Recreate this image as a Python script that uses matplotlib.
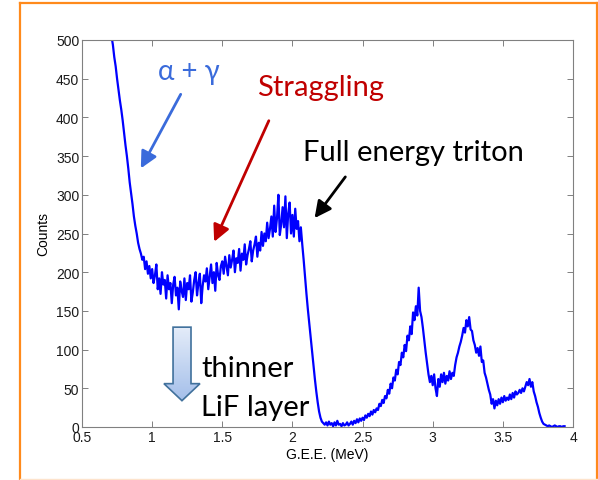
import numpy as np
import matplotlib
matplotlib.use("Agg")
import matplotlib.pyplot as plt
from matplotlib.patches import Polygon
from matplotlib.lines import Line2D

# energy grid (MeV), one channel every 0.01
energy = np.round(np.arange(0.70, 3.945, 0.01), 2)

# counts, segment by segment
counts_alpha = [525, 505, 494, 478, 466, 450, 436, 422, 410, 396,
                380, 364, 350, 334, 316, 302, 288, 272, 260, 250,
                238, 230, 224, 216, 220, 204, 214, 198, 208, 192]
counts_valley = [204, 186, 196, 210, 178, 192, 172, 200, 184, 190,
                 166, 196, 178, 186, 160, 184, 194, 170, 180, 152,
                 188, 176, 168, 192, 164, 186, 178, 196, 162, 174,
                 190, 200, 170, 186, 198, 160, 182, 196, 188, 205,
                 178, 194, 210, 186, 200, 176, 212, 196, 190, 208]
counts_rise = [214, 198, 220, 208, 196, 222, 206, 216, 228, 200,
               218, 212, 230, 202, 224, 216, 236, 210, 222, 230,
               240, 214, 228, 236, 246, 220, 238, 228, 252, 234,
               250, 240, 264, 244, 256, 272, 246, 286, 252, 270,
               300, 248, 262, 284, 258, 298, 244, 276, 290, 250,]
counts_edge = [274, 246, 282, 256, 266, 240, 258, 236, 216, 194,
               172, 152, 134, 116, 98, 80, 62, 46, 32, 20,
               12, 7, 5, 3, 6]
counts_base = [2, 7, 3, 5, 1, 6, 2, 8, 3, 4,
               1, 5, 2, 3, 6, 2, 4, 7, 3, 8,
               5, 10, 6, 11, 8]
counts_peak1 = [12, 9, 15, 12, 17, 14, 20, 16, 22, 19,
                24, 22, 30, 27, 35, 31, 40, 37, 48, 43,
                56, 50, 64, 60, 74, 68, 84, 80, 96, 90,
                106, 98, 118, 112, 130, 120, 148, 138, 156, 144,
                180, 150, 142, 128, 112, 96, 82, 68, 58]
counts_gap = [66, 54, 68, 50, 40, 62, 52, 68, 58, 70,
              56, 66, 60, 72, 62, 70, 66]
counts_peak2 = [80, 90, 96, 104, 110, 118, 128, 122, 138, 130,
                142, 126, 124, 112, 106, 96, 102, 92, 104, 84,
                86, 70, 64, 56, 48, 42, 30, 36, 24]
counts_peak3 = [34, 28, 36, 30, 38, 32, 40, 34, 38, 35,
                42, 36, 44, 38, 46, 42, 44, 48, 44, 50,
                46, 52, 58, 54, 62, 52, 58, 46, 40, 32,
                26, 18, 12, 7, 4, 3]
counts_tail = [2, 1, 2, 1, 0, 1, 2, 1, 0, 1, 1, 0, 1, 1]

counts = np.array(counts_alpha + counts_valley + counts_rise + counts_edge
                  + counts_base + counts_peak1 + counts_gap + counts_peak2
                  + counts_peak3 + counts_tail, dtype=float)
assert len(counts) == len(energy)

xticks = [0.5, 1, 1.5, 2, 2.5, 3, 3.5, 4]
xticklabels = ["0.5", "1", "1.5", "2", "2.5", "3", "3.5", "4"]
yticks = [0, 50, 100, 150, 200, 250, 300, 350, 400, 450, 500]

W, H = 598, 481
fig = plt.figure(figsize=(W / 100, H / 100), dpi=100)
ax = fig.add_axes([82 / W, (H - 428) / H, (573 - 82) / W, (428 - 41) / H])

ax.plot(energy, counts, color="#0000FF", lw=1.6)
ax.set_xlim(0.5, 4)
ax.set_ylim(0, 500)

tick_font = {"family": "Liberation Sans", "size": 10}
ax.set_xticks(xticks)
ax.set_xticklabels(xticklabels, fontdict=tick_font)
ax.set_yticks(yticks)
ax.set_yticklabels([str(v) for v in yticks], fontdict=tick_font)
ax.tick_params(direction="in", length=4, width=0.7, color="#808080",
               top=True, right=True, labelcolor="#1a1a1a", pad=2)
for s in ax.spines.values():
    s.set_color("#808080")
    s.set_linewidth(0.8)
ax.set_xlabel("G.E.E. (MeV)", fontdict=tick_font, labelpad=2)
ax.set_ylabel("Counts", fontdict=tick_font, labelpad=4)

# annotations
ann_font = "Lato"
head = "-|>,head_length=1.0,head_width=0.5"
ax.text(1.042, 450, "α + γ", color="#3A6BDB", fontsize=20, family=ann_font)
ax.annotate("", xy=(0.910, 331), xytext=(1.213, 433),
            arrowprops=dict(arrowstyle=head, color="#3A6BDB", lw=2))
ax.text(1.747, 429, "Straggling", color="#C00000", fontsize=21, family=ann_font)
ax.annotate("", xy=(1.434, 236), xytext=(1.840, 399),
            arrowprops=dict(arrowstyle=head, color="#C00000", lw=2))
ax.text(2.075, 345, "Full energy triton", color="black", fontsize=21, family=ann_font)
ax.annotate("", xy=(2.146, 267), xytext=(2.389, 326),
            arrowprops=dict(arrowstyle=head, color="black", lw=2))
ax.text(1.348, 66, "thinner", color="black", fontsize=21, family=ann_font)
ax.text(1.348, 16, "LiF layer", color="black", fontsize=21, family=ann_font)

# hollow block arrow with a soft gradient
shaft_l, shaft_r, head_l, head_r = 1.149, 1.277, 1.084, 1.341
top, neck, tip = 129, 56, 34
tip_x = (head_l + head_r) / 2
verts = [(shaft_l, top), (shaft_r, top), (shaft_r, neck), (head_r, neck),
         (tip_x, tip), (head_l, neck), (shaft_l, neck)]
block = Polygon(verts, closed=True, facecolor="none", edgecolor="#41719C",
                lw=1.2, zorder=4)
ax.add_patch(block)
grad = np.linspace(0, 1, 100).reshape(-1, 1)
img = ax.imshow(grad, cmap=matplotlib.colors.LinearSegmentedColormap.from_list(
    "g", ["#A4BFEA", "#E4ECF9"]), extent=(head_l, head_r, tip, top),
    origin="lower", aspect="auto", zorder=3)
img.set_clip_path(block)

# orange frame
orange = "#FF8A1C"
fig.add_artist(Line2D([19.5 / W, 19.5 / W], [0, 1 - 4 / H], transform=fig.transFigure,
                      color=orange, lw=1.6))
fig.add_artist(Line2D([19.5 / W, 596.5 / W], [1 - 4.3 / H, 1 - 4.3 / H],
                      transform=fig.transFigure, color=orange, lw=1.6))
fig.add_artist(Line2D([596.5 / W, 596.5 / W], [0, 1 - 4 / H], transform=fig.transFigure,
                      color=orange, lw=1.6))
fig.add_artist(Line2D([19.5 / W, 596.5 / W], [1 / H, 1 / H], transform=fig.transFigure,
                      color="#FDE3CC", lw=1.0))

fig.savefig("out.png", dpi=100)
